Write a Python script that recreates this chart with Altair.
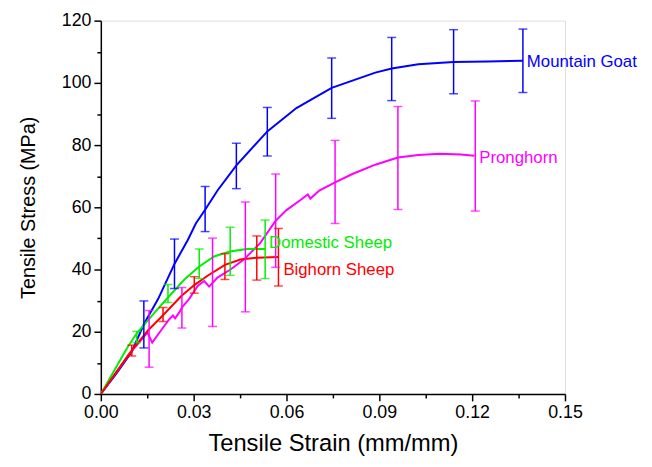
import altair as alt
import pandas as pd

series_names = ["Mountain Goat", "Pronghorn", "Domestic Sheep", "Bighorn Sheep"]
series_colors = ["#0000ff", "#ff00ff", "#00ee00", "#ff0000"]

# Mountain Goat
goat_strain = [0, 0.005, 0.010, 0.0139, 0.0185, 0.0238, 0.0281, 0.0307, 0.0337, 0.0377,
               0.0438, 0.0538, 0.0632, 0.0746, 0.0887, 0.094, 0.1026, 0.114, 0.1249, 0.1364]
goat_stress = [0, 6.5, 13.6, 22.4, 30.5, 41.8, 49.5, 54.8, 59.2, 65.4,
               73.5, 84.4, 91.9, 98.4, 103.3, 104.6, 106.0, 106.7, 106.9, 107.1]
goat_err_x = [0.0139, 0.0238, 0.0337, 0.0438, 0.0538, 0.0746, 0.094, 0.114, 0.1364]
goat_err_lo = [14.8, 33.9, 52.2, 66.0, 76.5, 88.6, 94.3, 96.5, 96.9]
goat_err_hi = [29.9, 49.8, 66.7, 80.6, 92.1, 108.0, 114.6, 117.1, 117.3]

# Pronghorn
prong_strain = [0, 0.0089, 0.0143, 0.0151, 0.0166, 0.0206, 0.0222, 0.0233, 0.0240, 0.0254,
                0.0262, 0.0285, 0.0313, 0.0334, 0.0350, 0.0377, 0.0419, 0.0462, 0.0515, 0.0565,
                0.0600, 0.0643, 0.0669, 0.0677, 0.0706, 0.0757, 0.0813, 0.0887, 0.096, 0.1026,
                0.1095, 0.1164, 0.1207]
prong_stress = [0, 12.5, 18.8, 19.7, 16.5, 22.0, 24.1, 25.2, 24.3, 26.3,
                27.8, 30.5, 34.7, 36.3, 34.5, 37.4, 40.0, 43.2, 48.5, 55.7,
                59.1, 62.2, 64.1, 62.8, 65.4, 68.0, 70.7, 73.7, 76.0, 76.8,
                77.2, 77.0, 76.6]
prong_err_x = [0.0156, 0.0262, 0.0361, 0.0467, 0.0565, 0.0757, 0.096, 0.121]
prong_err_lo = [8.6, 21.2, 21.7, 26.4, 40.7, 54.8, 59.3, 58.8]
prong_err_hi = [26.8, 34.2, 50.1, 61.7, 70.7, 81.5, 92.4, 94.2]

# Domestic Sheep
dom_strain = [0, 0.0084, 0.0116, 0.0175, 0.0217, 0.027, 0.0318, 0.0366, 0.0417, 0.0472, 0.0531]
dom_stress = [0, 14.6, 19.5, 26.3, 31.0, 36.8, 41.0, 44.2, 45.8, 46.6, 46.6]
dom_err_x = [0.0116, 0.0217, 0.0318, 0.0418, 0.0531]
dom_err_lo = [16.5, 29.4, 37.1, 38.1, 37.1]
dom_err_hi = [20.1, 35.2, 46.6, 53.6, 55.9]

# Bighorn Sheep
big_strain = [0, 0.005, 0.010, 0.0153, 0.0201, 0.026, 0.0302, 0.0345, 0.0401, 0.0451, 0.0504, 0.0574]
big_stress = [0, 7.0, 14.0, 20.5, 25.3, 31.5, 35.0, 38.0, 41.5, 43.2, 43.8, 44.0]
big_err_x = [0.0100, 0.0201, 0.0302, 0.0401, 0.0504, 0.0574]
big_err_lo = [12.2, 23.3, 32.4, 36.8, 36.6, 34.7]
big_err_hi = [15.7, 27.8, 37.7, 45.1, 50.8, 53.2]

x_major = [0.0, 0.03, 0.06, 0.09, 0.12, 0.15]
x_minor = [0.015, 0.045, 0.075, 0.105, 0.135]
y_major = [0, 20, 40, 60, 80, 100, 120]
y_minor = [10, 30, 50, 70, 90, 110]

FONT = "Liberation Sans"

lines = []
errs = []
for name, sx, sy, ex, elo, ehi in [
    ("Mountain Goat", goat_strain, goat_stress, goat_err_x, goat_err_lo, goat_err_hi),
    ("Pronghorn", prong_strain, prong_stress, prong_err_x, prong_err_lo, prong_err_hi),
    ("Domestic Sheep", dom_strain, dom_stress, dom_err_x, dom_err_lo, dom_err_hi),
    ("Bighorn Sheep", big_strain, big_stress, big_err_x, big_err_lo, big_err_hi),
]:
    for i, (a, b) in enumerate(zip(sx, sy)):
        lines.append({"series": name, "strain": a, "stress": b, "order": i})
    for a, lo, hi in zip(ex, elo, ehi):
        errs.append({"series": name, "strain": a, "lo": lo, "hi": hi})

line_df = pd.DataFrame(lines)
err_df = pd.DataFrame(errs)

xscale = alt.Scale(domain=[0, 0.15], nice=False, zero=True)
yscale = alt.Scale(domain=[0, 120], nice=False, zero=True)
cscale = alt.Scale(domain=series_names, range=series_colors)

axis_common = dict(grid=False, domainColor="black", tickColor="black", labelColor="black",
                   titleColor="black", labelFont=FONT, titleFont=FONT, labelFontSize=18,
                   titleFontWeight="normal", domainWidth=1.5, tickWidth=1.5,
                   tickSize=7, labelFlush=False, labelOverlap=False)

x_axis = alt.Axis(values=x_major, format=".2f", title="Tensile Strain (mm/mm)",
                  labelPadding=3, titlePadding=10, titleFontSize=24, orient="bottom",
                  **axis_common)
y_axis = alt.Axis(values=y_major, format="d", title="Tensile Stress (MPa)",
                  labelPadding=3, titlePadding=23, titleFontSize=20, orient="left",
                  **axis_common)

x_axis_minor = alt.Axis(values=x_minor, labels=False, title=None, domain=False, grid=False,
                        tickSize=4, tickWidth=1.5, tickColor="black", orient="bottom")
y_axis_minor = alt.Axis(values=y_minor, labels=False, title=None, domain=False, grid=False,
                        tickSize=4, tickWidth=1.5, tickColor="black", orient="left")

base_line = alt.Chart(line_df).mark_line(strokeWidth=2, clip=True).encode(
    x=alt.X("strain:Q", scale=xscale, axis=x_axis),
    y=alt.Y("stress:Q", scale=yscale, axis=y_axis),
    color=alt.Color("series:N", scale=cscale, legend=None),
    order="order:Q",
)

minor_layer = alt.Chart(line_df).mark_point(opacity=0).encode(
    x=alt.X("strain:Q", scale=xscale, axis=x_axis_minor),
    y=alt.Y("stress:Q", scale=yscale, axis=y_axis_minor),
)

err_rule = alt.Chart(err_df).mark_rule(strokeWidth=1.5).encode(
    x=alt.X("strain:Q", scale=xscale, axis=None),
    y=alt.Y("lo:Q", scale=yscale, axis=None),
    y2="hi:Q",
    color=alt.Color("series:N", scale=cscale, legend=None),
)
cap_lo = alt.Chart(err_df).mark_tick(orient="horizontal", size=9, thickness=1.5).encode(
    x=alt.X("strain:Q", scale=xscale, axis=None),
    y=alt.Y("lo:Q", scale=yscale, axis=None),
    color=alt.Color("series:N", scale=cscale, legend=None),
)
cap_hi = alt.Chart(err_df).mark_tick(orient="horizontal", size=9, thickness=1.5).encode(
    x=alt.X("strain:Q", scale=xscale, axis=None),
    y=alt.Y("hi:Q", scale=yscale, axis=None),
    color=alt.Color("series:N", scale=cscale, legend=None),
)

label_offsets = {"Mountain Goat": (4, 1), "Pronghorn": (5, 2),
                 "Domestic Sheep": (4, -6), "Bighorn Sheep": (5, 13)}
label_layers = []
for name, color in zip(series_names, series_colors):
    sub = line_df[line_df.series == name]
    end = sub[sub.order == sub.order.max()]
    dx, dy = label_offsets[name]
    label_layers.append(
        alt.Chart(end).mark_text(align="left", baseline="middle", dx=dx, dy=dy,
                                 font=FONT, fontSize=17, color=color).encode(
            x=alt.X("strain:Q", scale=xscale, axis=None),
            y=alt.Y("stress:Q", scale=yscale, axis=None),
            text=alt.value(name),
        )
    )

chart = alt.layer(base_line, minor_layer, err_rule, cap_lo, cap_hi, *label_layers).resolve_axis(
    x="independent", y="independent"
).properties(
    width=470, height=378,
    autosize=alt.AutoSizeParams(type="none"),
    padding={"left": 94, "top": 10, "right": 80, "bottom": 60},
).configure_view(strokeWidth=0).configure(background="white")

chart.save("out.html", embed_options={"renderer": "svg", "actions": False})
